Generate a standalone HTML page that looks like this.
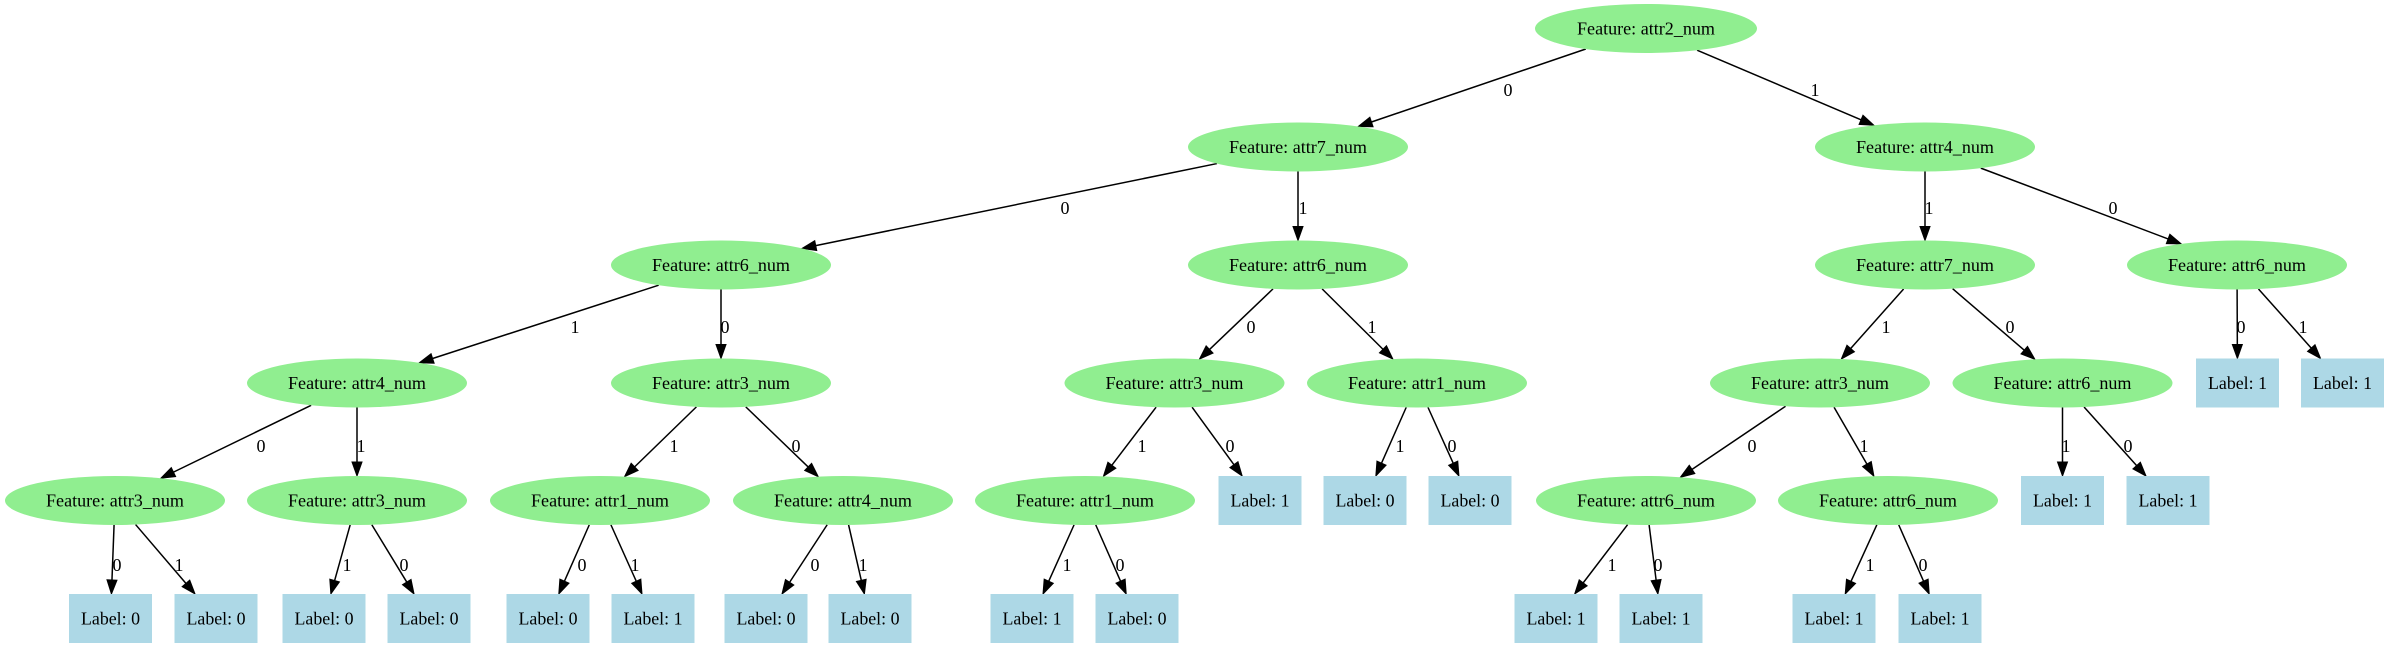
<!DOCTYPE html>
<html><head><meta charset="utf-8"><style>
html,body{margin:0;padding:0;background:#fff;}
svg{display:block;}
text{font-family:"Liberation Serif",serif;font-size:18px;fill:#000;}
</style></head><body>
<svg id="g" width="2389" height="649" viewBox="0 0 2389 649" xmlns="http://www.w3.org/2000/svg">
<g id="edges"></g>
<g id="nodes">
<!-- level 0 -->
<ellipse cx="1646" cy="28.5" rx="111" ry="24.5" fill="#90ee90"/>
<text x="1646" y="34.5" text-anchor="middle" textLength="138" lengthAdjust="spacingAndGlyphs">Feature: attr2_num</text>
<!-- level 1 -->
<ellipse cx="1298" cy="147" rx="110" ry="24.5" fill="#90ee90"/>
<text x="1298" y="153" text-anchor="middle" textLength="138" lengthAdjust="spacingAndGlyphs">Feature: attr7_num</text>
<ellipse cx="1925" cy="147" rx="110" ry="24.5" fill="#90ee90"/>
<text x="1925" y="153" text-anchor="middle" textLength="138" lengthAdjust="spacingAndGlyphs">Feature: attr4_num</text>
<!-- level 2 -->
<ellipse cx="721" cy="265" rx="110" ry="24.5" fill="#90ee90"/>
<text x="721" y="271" text-anchor="middle" textLength="138" lengthAdjust="spacingAndGlyphs">Feature: attr6_num</text>
<ellipse cx="1298" cy="265" rx="110" ry="24.5" fill="#90ee90"/>
<text x="1298" y="271" text-anchor="middle" textLength="138" lengthAdjust="spacingAndGlyphs">Feature: attr6_num</text>
<ellipse cx="1925" cy="265" rx="110" ry="24.5" fill="#90ee90"/>
<text x="1925" y="271" text-anchor="middle" textLength="138" lengthAdjust="spacingAndGlyphs">Feature: attr7_num</text>
<ellipse cx="2237" cy="265" rx="110" ry="24.5" fill="#90ee90"/>
<text x="2237" y="271" text-anchor="middle" textLength="138" lengthAdjust="spacingAndGlyphs">Feature: attr6_num</text>
<!-- level 3 -->
<ellipse cx="357" cy="383" rx="110" ry="24.5" fill="#90ee90"/>
<text x="357" y="389" text-anchor="middle" textLength="138" lengthAdjust="spacingAndGlyphs">Feature: attr4_num</text>
<ellipse cx="721" cy="383" rx="110" ry="24.5" fill="#90ee90"/>
<text x="721" y="389" text-anchor="middle" textLength="138" lengthAdjust="spacingAndGlyphs">Feature: attr3_num</text>
<ellipse cx="1174.5" cy="383" rx="110" ry="24.5" fill="#90ee90"/>
<text x="1174.5" y="389" text-anchor="middle" textLength="138" lengthAdjust="spacingAndGlyphs">Feature: attr3_num</text>
<ellipse cx="1417" cy="383" rx="110" ry="24.5" fill="#90ee90"/>
<text x="1417" y="389" text-anchor="middle" textLength="138" lengthAdjust="spacingAndGlyphs">Feature: attr1_num</text>
<ellipse cx="1820" cy="383" rx="110" ry="24.5" fill="#90ee90"/>
<text x="1820" y="389" text-anchor="middle" textLength="138" lengthAdjust="spacingAndGlyphs">Feature: attr3_num</text>
<ellipse cx="2062.5" cy="383" rx="110" ry="24.5" fill="#90ee90"/>
<text x="2062.5" y="389" text-anchor="middle" textLength="138" lengthAdjust="spacingAndGlyphs">Feature: attr6_num</text>
<rect x="2196" y="358.5" width="83" height="49" fill="#add8e6"/>
<text x="2237.5" y="389" text-anchor="middle" textLength="59" lengthAdjust="spacingAndGlyphs">Label: 1</text>
<rect x="2301" y="358.5" width="83" height="49" fill="#add8e6"/>
<text x="2342.5" y="389" text-anchor="middle" textLength="59" lengthAdjust="spacingAndGlyphs">Label: 1</text>
<!-- level 4 -->
<ellipse cx="115" cy="500.5" rx="110" ry="24.5" fill="#90ee90"/>
<text x="115" y="506.5" text-anchor="middle" textLength="138" lengthAdjust="spacingAndGlyphs">Feature: attr3_num</text>
<ellipse cx="357" cy="500.5" rx="110" ry="24.5" fill="#90ee90"/>
<text x="357" y="506.5" text-anchor="middle" textLength="138" lengthAdjust="spacingAndGlyphs">Feature: attr3_num</text>
<ellipse cx="600" cy="500.5" rx="110" ry="24.5" fill="#90ee90"/>
<text x="600" y="506.5" text-anchor="middle" textLength="138" lengthAdjust="spacingAndGlyphs">Feature: attr1_num</text>
<ellipse cx="843" cy="500.5" rx="110" ry="24.5" fill="#90ee90"/>
<text x="843" y="506.5" text-anchor="middle" textLength="138" lengthAdjust="spacingAndGlyphs">Feature: attr4_num</text>
<ellipse cx="1085" cy="500.5" rx="110" ry="24.5" fill="#90ee90"/>
<text x="1085" y="506.5" text-anchor="middle" textLength="138" lengthAdjust="spacingAndGlyphs">Feature: attr1_num</text>
<rect x="1218.5" y="476" width="83" height="49" fill="#add8e6"/>
<text x="1260" y="506.5" text-anchor="middle" textLength="59" lengthAdjust="spacingAndGlyphs">Label: 1</text>
<rect x="1323.5" y="476" width="83" height="49" fill="#add8e6"/>
<text x="1365" y="506.5" text-anchor="middle" textLength="59" lengthAdjust="spacingAndGlyphs">Label: 0</text>
<rect x="1428.5" y="476" width="83" height="49" fill="#add8e6"/>
<text x="1470" y="506.5" text-anchor="middle" textLength="59" lengthAdjust="spacingAndGlyphs">Label: 0</text>
<ellipse cx="1646" cy="500.5" rx="110" ry="24.5" fill="#90ee90"/>
<text x="1646" y="506.5" text-anchor="middle" textLength="138" lengthAdjust="spacingAndGlyphs">Feature: attr6_num</text>
<ellipse cx="1888" cy="500.5" rx="110" ry="24.5" fill="#90ee90"/>
<text x="1888" y="506.5" text-anchor="middle" textLength="138" lengthAdjust="spacingAndGlyphs">Feature: attr6_num</text>
<rect x="2021" y="476" width="83" height="49" fill="#add8e6"/>
<text x="2062.5" y="506.5" text-anchor="middle" textLength="59" lengthAdjust="spacingAndGlyphs">Label: 1</text>
<rect x="2126.5" y="476" width="83" height="49" fill="#add8e6"/>
<text x="2168" y="506.5" text-anchor="middle" textLength="59" lengthAdjust="spacingAndGlyphs">Label: 1</text>
<!-- level 5 -->
<rect x="69" y="594" width="83" height="49" fill="#add8e6"/>
<text x="110.5" y="624.5" text-anchor="middle" textLength="59" lengthAdjust="spacingAndGlyphs">Label: 0</text>
<rect x="174.5" y="594" width="83" height="49" fill="#add8e6"/>
<text x="216" y="624.5" text-anchor="middle" textLength="59" lengthAdjust="spacingAndGlyphs">Label: 0</text>
<rect x="282.5" y="594" width="83" height="49" fill="#add8e6"/>
<text x="324" y="624.5" text-anchor="middle" textLength="59" lengthAdjust="spacingAndGlyphs">Label: 0</text>
<rect x="387.5" y="594" width="83" height="49" fill="#add8e6"/>
<text x="429" y="624.5" text-anchor="middle" textLength="59" lengthAdjust="spacingAndGlyphs">Label: 0</text>
<rect x="506.5" y="594" width="83" height="49" fill="#add8e6"/>
<text x="548" y="624.5" text-anchor="middle" textLength="59" lengthAdjust="spacingAndGlyphs">Label: 0</text>
<rect x="611.5" y="594" width="83" height="49" fill="#add8e6"/>
<text x="653" y="624.5" text-anchor="middle" textLength="59" lengthAdjust="spacingAndGlyphs">Label: 1</text>
<rect x="724.5" y="594" width="83" height="49" fill="#add8e6"/>
<text x="766" y="624.5" text-anchor="middle" textLength="59" lengthAdjust="spacingAndGlyphs">Label: 0</text>
<rect x="828.5" y="594" width="83" height="49" fill="#add8e6"/>
<text x="870" y="624.5" text-anchor="middle" textLength="59" lengthAdjust="spacingAndGlyphs">Label: 0</text>
<rect x="990.5" y="594" width="83" height="49" fill="#add8e6"/>
<text x="1032" y="624.5" text-anchor="middle" textLength="59" lengthAdjust="spacingAndGlyphs">Label: 1</text>
<rect x="1095.5" y="594" width="83" height="49" fill="#add8e6"/>
<text x="1137" y="624.5" text-anchor="middle" textLength="59" lengthAdjust="spacingAndGlyphs">Label: 0</text>
<rect x="1514.5" y="594" width="83" height="49" fill="#add8e6"/>
<text x="1556" y="624.5" text-anchor="middle" textLength="59" lengthAdjust="spacingAndGlyphs">Label: 1</text>
<rect x="1619.5" y="594" width="83" height="49" fill="#add8e6"/>
<text x="1661" y="624.5" text-anchor="middle" textLength="59" lengthAdjust="spacingAndGlyphs">Label: 1</text>
<rect x="1792.5" y="594" width="83" height="49" fill="#add8e6"/>
<text x="1834" y="624.5" text-anchor="middle" textLength="59" lengthAdjust="spacingAndGlyphs">Label: 1</text>
<rect x="1898.5" y="594" width="83" height="49" fill="#add8e6"/>
<text x="1940" y="624.5" text-anchor="middle" textLength="59" lengthAdjust="spacingAndGlyphs">Label: 1</text>
</g>
<g id="elabels">
<text x="1508" y="96" text-anchor="middle">0</text>
<text x="1815" y="96" text-anchor="middle">1</text>
<text x="1065" y="214" text-anchor="middle">0</text>
<text x="1303" y="214" text-anchor="middle">1</text>
<text x="1929" y="214" text-anchor="middle">1</text>
<text x="2113" y="214" text-anchor="middle">0</text>
<text x="575" y="333" text-anchor="middle">1</text>
<text x="725" y="333" text-anchor="middle">0</text>
<text x="1251" y="333" text-anchor="middle">0</text>
<text x="1372" y="333" text-anchor="middle">1</text>
<text x="1886" y="333" text-anchor="middle">1</text>
<text x="2010" y="333" text-anchor="middle">0</text>
<text x="2241" y="333" text-anchor="middle">0</text>
<text x="2303" y="333" text-anchor="middle">1</text>
<text x="261" y="452" text-anchor="middle">0</text>
<text x="361" y="452" text-anchor="middle">1</text>
<text x="674" y="452" text-anchor="middle">1</text>
<text x="796" y="452" text-anchor="middle">0</text>
<text x="1142" y="452" text-anchor="middle">1</text>
<text x="1230" y="452" text-anchor="middle">0</text>
<text x="1400" y="452" text-anchor="middle">1</text>
<text x="1452" y="452" text-anchor="middle">0</text>
<text x="1752" y="452" text-anchor="middle">0</text>
<text x="1864" y="452" text-anchor="middle">1</text>
<text x="2066" y="452" text-anchor="middle">1</text>
<text x="2128" y="452" text-anchor="middle">0</text>
<text x="117" y="571" text-anchor="middle">0</text>
<text x="179" y="571" text-anchor="middle">1</text>
<text x="347" y="571" text-anchor="middle">1</text>
<text x="404" y="571" text-anchor="middle">0</text>
<text x="582" y="571" text-anchor="middle">0</text>
<text x="635" y="571" text-anchor="middle">1</text>
<text x="815" y="571" text-anchor="middle">0</text>
<text x="863" y="571" text-anchor="middle">1</text>
<text x="1067" y="571" text-anchor="middle">1</text>
<text x="1120" y="571" text-anchor="middle">0</text>
<text x="1612" y="571" text-anchor="middle">1</text>
<text x="1658" y="571" text-anchor="middle">0</text>
<text x="1870" y="571" text-anchor="middle">1</text>
<text x="1923" y="571" text-anchor="middle">0</text>
</g>
</svg>
<script>
(function(){
var Y=[28.5,147,265,383,500.5,618.5];
// [px,plevel,cx,clevel,childIsRect]
var E=[
[1646,0,1298,1,0],[1646,0,1925,1,0],
[1298,1,721,2,0],[1298,1,1298,2,0],[1925,1,1925,2,0],[1925,1,2237,2,0],
[721,2,357,3,0],[721,2,721,3,0],[1298,2,1174.5,3,0],[1298,2,1417,3,0],
[1925,2,1820,3,0],[1925,2,2062.5,3,0],[2237,2,2237.5,3,1],[2237,2,2342.5,3,1],
[357,3,115,4,0],[357,3,357,4,0],[721,3,600,4,0],[721,3,843,4,0],
[1174.5,3,1085,4,0],[1174.5,3,1260,4,1],[1417,3,1365,4,1],[1417,3,1470,4,1],
[1820,3,1646,4,0],[1820,3,1888,4,0],[2062.5,3,2062.5,4,1],[2062.5,3,2168,4,1],
[115,4,110.5,5,1],[115,4,216,5,1],[357,4,324,5,1],[357,4,429,5,1],
[600,4,548,5,1],[600,4,653,5,1],[843,4,766,5,1],[843,4,870,5,1],
[1085,4,1032,5,1],[1085,4,1137,5,1],[1646,4,1556,5,1],[1646,4,1661,5,1],
[1888,4,1834,5,1],[1888,4,1940,5,1]];
var RX=110,RY=24.5,HW=41.5,HH=24.5;
var g=document.getElementById('edges'),ns='http://www.w3.org/2000/svg',s='';
E.forEach(function(e){
 var x1=e[0],y1=Y[e[1]],x2=e[2],y2=Y[e[3]];
 var dx=x2-x1,dy=y2-y1,L=Math.sqrt(dx*dx+dy*dy),ux=dx/L,uy=dy/L;
 var t0=1/Math.sqrt((ux*ux)/(RX*RX)+(uy*uy)/(RY*RY));
 var t1;
 if(e[4]){t1=Math.min(HH/Math.abs(uy),Math.abs(ux)>1e-6?HW/Math.abs(ux):1e9);}
 else{t1=1/Math.sqrt((ux*ux)/(RX*RX)+(uy*uy)/(RY*RY));}
 var sx=x1+ux*t0,sy=y1+uy*t0,tx=x2-ux*t1,ty=y2-uy*t1;
 var al=14,aw=5;
 var bx=tx-ux*al,by=ty-uy*al;
 s+='<line x1="'+sx+'" y1="'+sy+'" x2="'+bx+'" y2="'+by+'" stroke="#000" stroke-width="1.5"/>';
 s+='<polygon points="'+tx+','+ty+' '+(bx-uy*aw)+','+(by+ux*aw)+' '+(bx+uy*aw)+','+(by-ux*aw)+'" fill="#000" stroke="#000" stroke-width="1"/>';
});
g.innerHTML=s;
})();
</script>
</body></html>
